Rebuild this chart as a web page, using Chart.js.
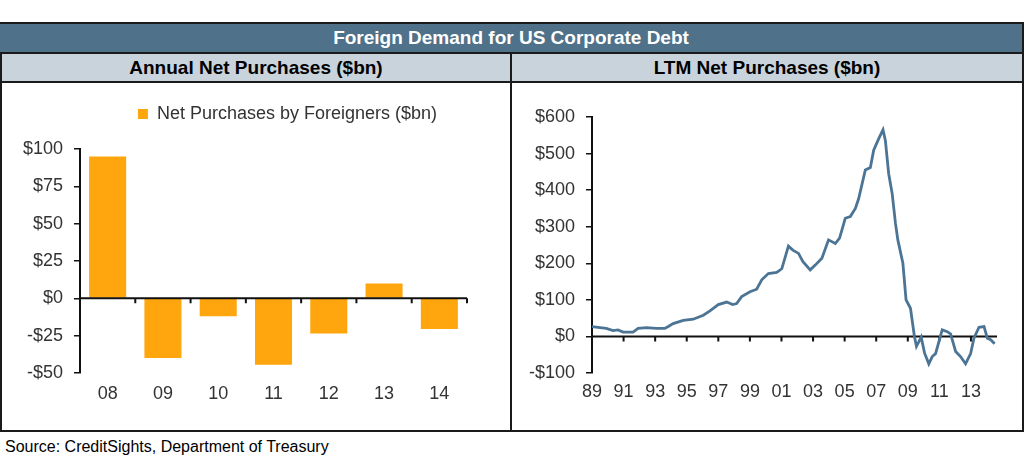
<!DOCTYPE html>
<html>
<head>
<meta charset="utf-8">
<script src="https://cdn.jsdelivr.net/npm/chart.js@4"></script>
<style>
  body { margin: 0; background: #fff; font-family: 'Liberation Sans', Arial, sans-serif; }
  #page { position: relative; width: 1030px; height: 463px; overflow: hidden; }
  .frame { position: absolute; left: 0; top: 22px; width: 1024px; height: 410px; box-sizing: border-box; border: 2px solid #1a1a1a; }
  .title { position: absolute; left: 0; top: 24px; width: 1022px; height: 28px; background: #4f7189; color: #fff;
           font-weight: bold; font-size: 19px; line-height: 28px; text-align: center; }
  .sub { position: absolute; top: 54px; height: 27px; background: #c9d3dc; color: #000; font-weight: bold;
         font-size: 19px; line-height: 27px; text-align: center; }
  .hline { position: absolute; left: 0; width: 1024px; height: 2px; background: #1a1a1a; }
  .vline { position: absolute; left: 510px; top: 52px; width: 2px; height: 380px; background: #1a1a1a; }
  canvas { position: absolute; }
  .source { position: absolute; left: 5px; top: 437px; font-size: 16px; line-height: 20px; color: #000; }
</style>
</head>
<body>
<div id="page">
  <div class="frame"></div>
  <div class="title">Foreign Demand for US Corporate Debt</div>
  <div class="hline" style="top:52px"></div>
  <div class="sub" style="left:2px;width:508px">Annual Net Purchases ($bn)</div>
  <div class="sub" style="left:512px;width:510px">LTM Net Purchases ($bn)</div>
  <div class="hline" style="top:81px"></div>
  <div class="vline"></div>
  <canvas id="annualChart" width="575" height="349" style="left:0;top:83px"></canvas>
  <canvas id="ltmChart" width="510" height="349" style="left:512px;top:83px"></canvas>
  <div class="source">Source: CreditSights, Department of Treasury</div>
</div>
<script>
// annual net purchases by foreigners ($bn)
const annualYears = ['08', '09', '10', '11', '12', '13', '14'];
const annualValues = [95, -40, -12, -44.5, -23.5, 10, -20.5];
const annualTicks = [-50, -25, 0, 25, 50, 75, 100];

// LTM net purchases ($bn)
const ltmYears = [
    1989.00, 1989.38, 1989.91, 1990.33, 1990.65, 1990.97, 1991.60, 1991.92, 1992.45, 1993.08,
    1993.61, 1993.83, 1994.14, 1994.78, 1995.41, 1996.05, 1996.47, 1997.00, 1997.53, 1997.91,
    1998.16, 1998.48, 1999.01, 1999.43, 1999.75, 2000.17, 2000.70, 2001.02, 2001.44, 2001.72,
    2002.08, 2002.35, 2002.82, 2003.14, 2003.56, 2003.98, 2004.41, 2004.68, 2005.04, 2005.36,
    2005.68, 2005.89, 2006.31, 2006.63, 2006.84, 2007.16, 2007.43, 2007.58, 2007.79, 2008.01,
    2008.22, 2008.37, 2008.69, 2008.89, 2009.17, 2009.42, 2009.55, 2009.85, 2010.06, 2010.33,
    2010.55, 2010.76, 2011.18, 2011.50, 2011.71, 2012.03, 2012.34, 2012.66, 2012.98, 2013.19,
    2013.51, 2013.83, 2014.04, 2014.25, 2014.50
];
const ltmValues = [
    27, 25, 22, 16, 18, 12, 12, 22, 24, 22,
    22, 27, 35, 44, 47, 58, 70, 87, 94, 87,
    90, 109, 122, 129, 155, 172, 175, 185, 247, 236,
    227, 205, 182, 195, 214, 264, 254, 269, 323, 328,
    350, 377, 455, 462, 509, 541, 565, 536, 445, 391,
    309, 264, 200, 100, 77, 0, -27, -2, -45, -75,
    -55, -47, 18, 13, 7, -41, -55, -75, -47, -5,
    25, 27, -5, -9, -20
];
const ltmTickYears = [1989, 1991, 1993, 1995, 1997, 1999, 2001, 2003, 2005, 2007, 2009, 2011, 2013];
const ltmTickLabels = ['89', '91', '93', '95', '97', '99', '01', '03', '05', '07', '09', '11', '13'];
const ltmValueTicks = [-100, 0, 100, 200, 300, 400, 500, 600];

const FONT = "'Liberation Sans', Arial, sans-serif";
const TEXT = '#333';

function dollars(v) {
    return v < 0 ? '-$' + Math.abs(v) : '$' + v;
}

// zero axis line with small tick marks pointing down, like the Excel original
function zeroAxis(hook, tickXs) {
    return {
        id: 'zeroAxis',
        [hook](chart) {
            const { ctx, chartArea, scales } = chart;
            const y0 = scales.y.getPixelForValue(0);
            ctx.save();
            ctx.strokeStyle = '#111';
            ctx.lineWidth = 2;
            ctx.beginPath();
            ctx.moveTo(chartArea.left, y0);
            ctx.lineTo(chartArea.right, y0);
            tickXs(chart).forEach(x => {
                ctx.moveTo(x, y0);
                ctx.lineTo(x, y0 + 5);
            });
            ctx.stroke();
            ctx.restore();
        }
    };
}

// extra room under the legend
const legendGap = {
    id: 'legendGap',
    beforeInit(chart) {
        const fit = chart.legend.fit;
        chart.legend.fit = function () {
            fit.call(this);
            this.height += 16;
        };
    }
};

function valueAxis(min, max, step, ticks) {
    return {
        min: min,
        max: max,
        afterBuildTicks: (s) => { s.ticks = ticks.map(v => ({ value: v })); },
        afterFit: (s) => { s.width = 80; },
        border: { display: true, color: '#111', width: 2 },
        grid: { drawOnChartArea: false, drawTicks: true, tickLength: 6, color: '#111', lineWidth: 1.5 },
        ticks: { stepSize: step, padding: 11, color: TEXT, font: { family: FONT, size: 18 }, callback: dollars }
    };
}

new Chart(document.getElementById('annualChart'), {
    type: 'bar',
    data: {
        labels: annualYears,
        datasets: [{
            label: 'Net Purchases by Foreigners ($bn)',
            data: annualValues,
            backgroundColor: '#ffa60f',
            borderWidth: 0,
            barPercentage: 0.67,
            categoryPercentage: 1.0
        }]
    },
    options: {
        responsive: false,
        animation: false,
        layout: { padding: { top: 14, left: 0, right: 0, bottom: 0 } },
        plugins: {
            legend: {
                position: 'top',
                labels: { boxWidth: 10, boxHeight: 10, padding: 8, color: TEXT, font: { family: FONT, size: 18 } }
            },
            tooltip: { enabled: false }
        },
        scales: {
            x: {
                grid: { display: false },
                border: { display: false },
                afterFit: (s) => { s.height = 59; },
                ticks: { padding: 2, color: TEXT, font: { family: FONT, size: 18 } }
            },
            y: valueAxis(-50, 100, 25, annualTicks),
            pad: {
                type: 'linear',
                position: 'right',
                grid: { display: false },
                border: { display: false },
                ticks: { display: false },
                afterFit: (s) => { s.width = 108; }
            }
        }
    },
    plugins: [legendGap, zeroAxis('afterDatasetsDraw', chart => {
        const xs = chart.scales.x;
        return annualYears.map((_, i) => xs.getPixelForValue(i + 0.5));
    })]
});

new Chart(document.getElementById('ltmChart'), {
    type: 'line',
    data: {
        datasets: [{
            label: 'LTM Net Purchases ($bn)',
            data: ltmYears.map((yr, i) => ({ x: yr, y: ltmValues[i] })),
            borderColor: '#4b7495',
            borderWidth: 2.8,
            pointRadius: 0,
            tension: 0
        }]
    },
    options: {
        responsive: false,
        animation: false,
        layout: { padding: { top: 34, left: 0, right: 25, bottom: 0 } },
        plugins: { legend: { display: false }, tooltip: { enabled: false } },
        scales: {
            x: {
                type: 'linear',
                min: 1989,
                max: 2014.65,
                grid: { display: false },
                border: { display: false },
                afterBuildTicks: (s) => { s.ticks = ltmTickYears.map(v => ({ value: v })); },
                afterFit: (s) => { s.height = 59; },
                ticks: {
                    padding: 0, color: TEXT, font: { family: FONT, size: 18 },
                    maxRotation: 0, autoSkip: false,
                    callback: (v, i) => ltmTickLabels[i]
                }
            },
            y: valueAxis(-100, 600, 100, ltmValueTicks)
        }
    },
    plugins: [zeroAxis('beforeDatasetsDraw', chart => {
        const xs = chart.scales.x;
        return ltmTickYears.map(v => xs.getPixelForValue(v));
    })]
});
</script>
</body>
</html>
